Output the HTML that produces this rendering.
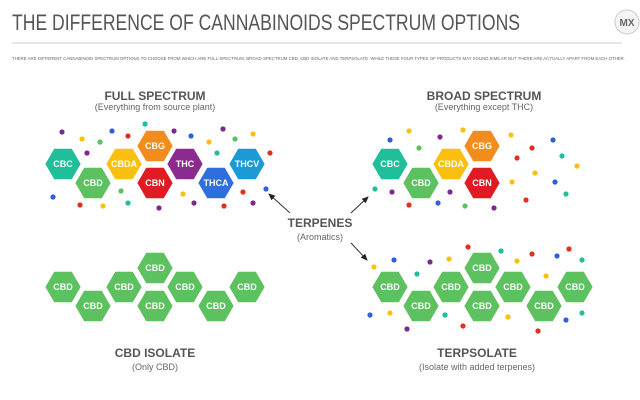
<!DOCTYPE html>
<html><head><meta charset="utf-8"><style>
html,body{margin:0;padding:0;background:#fff;width:640px;height:400px;overflow:hidden}
svg{display:block}
text{font-family:"Liberation Sans",sans-serif}
.h{font-size:12px;font-weight:bold;fill:#555;text-anchor:middle}
.s{font-size:9px;fill:#666;text-anchor:middle}
.hx{font-size:9px;font-weight:bold;fill:#fff;text-anchor:middle}
</style></head><body>
<svg width="640" height="400" viewBox="0 0 640 400" xmlns="http://www.w3.org/2000/svg">
<defs>
<polygon id="hex" points="-18.5,0 -9.2,-16 9.2,-16 18.5,0 9.2,16 -9.2,16" stroke="#fff" stroke-width="1.5"/>
<marker id="ar" markerWidth="8" markerHeight="8" refX="6" refY="3" orient="auto"><path d="M0,0 L7,3 L0,6 z" fill="#222"/></marker>
</defs>
<text x="12" y="30" font-size="22" fill="#555" textLength="508" lengthAdjust="spacingAndGlyphs">THE DIFFERENCE OF CANNABINOIDS SPECTRUM OPTIONS</text>
<circle cx="627" cy="22" r="12" fill="#f4f4f4" stroke="#ccc"/>
<text x="627" y="26" font-size="10" font-weight="bold" fill="#666" text-anchor="middle">MX</text>
<line x1="12" y1="43" x2="622" y2="43" stroke="#ccc" stroke-width="1"/>
<text x="12" y="60" font-size="4.6" fill="#666" textLength="613" lengthAdjust="spacingAndGlyphs">THERE ARE DIFFERENT CANNABINOID SPECTRUM OPTIONS TO CHOOSE FROM WHICH ARE FULL-SPECTRUM, BROAD-SPECTRUM CBD, CBD ISOLATE AND TERPSOLATE. WHILE THESE FOUR TYPES OF PRODUCTS MAY SOUND SIMILAR BUT THERE ARE ACTUALLY APART FROM EACH OTHER.</text>

<text class="h" x="155" y="100">FULL SPECTRUM</text>
<text class="s" x="155" y="110">(Everything from source plant)</text>
<text class="h" x="484" y="100">BROAD SPECTRUM</text>
<text class="s" x="484" y="110">(Everything except THC)</text>
<text class="h" x="320" y="227">TERPENES</text>
<text class="s" x="320" y="240">(Aromatics)</text>
<text class="h" x="155" y="357">CBD ISOLATE</text>
<text class="s" x="155" y="370">(Only CBD)</text>
<text class="h" x="477" y="357">TERPSOLATE</text>
<text class="s" x="477" y="370">(Isolate with added terpenes)</text>

<g stroke="#333" stroke-width="1" marker-end="url(#ar)">
<line x1="290" y1="213" x2="269" y2="194"/>
<line x1="351" y1="213" x2="368" y2="197"/>
<line x1="351" y1="243" x2="367" y2="260"/>
</g>

<g>
<use href="#hex" x="63" y="164" fill="#1fbf9a"/><text class="hx" x="63" y="167">CBC</text>
<use href="#hex" x="93" y="183" fill="#5cc15e"/><text class="hx" x="93" y="186">CBD</text>
<use href="#hex" x="124" y="164" fill="#fbbf10"/><text class="hx" x="124" y="167">CBDA</text>
<use href="#hex" x="155" y="146" fill="#f28c1c"/><text class="hx" x="155" y="149">CBG</text>
<use href="#hex" x="155" y="183" fill="#e01b24"/><text class="hx" x="155" y="186">CBN</text>
<use href="#hex" x="185" y="164" fill="#8b2a8f"/><text class="hx" x="185" y="167">THC</text>
<use href="#hex" x="216" y="183" fill="#2f6fdc"/><text class="hx" x="216" y="186">THCA</text>
<use href="#hex" x="247" y="164" fill="#1c9ad6"/><text class="hx" x="247" y="167">THCV</text>

<use href="#hex" x="390" y="164" fill="#1fbf9a"/><text class="hx" x="390" y="167">CBC</text>
<use href="#hex" x="421" y="183" fill="#5cc15e"/><text class="hx" x="421" y="186">CBD</text>
<use href="#hex" x="451" y="164" fill="#fbbf10"/><text class="hx" x="451" y="167">CBDA</text>
<use href="#hex" x="482" y="146" fill="#f28c1c"/><text class="hx" x="482" y="149">CBG</text>
<use href="#hex" x="482" y="183" fill="#e01b24"/><text class="hx" x="482" y="186">CBN</text>
</g>
<g fill="#5cc15e">
<use href="#hex" x="63" y="287"/><use href="#hex" x="93" y="306"/><use href="#hex" x="124" y="287"/><use href="#hex" x="155" y="268"/><use href="#hex" x="155" y="306"/><use href="#hex" x="185" y="287"/><use href="#hex" x="216" y="306"/><use href="#hex" x="247" y="287"/>
<use href="#hex" x="390" y="287"/><use href="#hex" x="421" y="306"/><use href="#hex" x="451" y="287"/><use href="#hex" x="482" y="268"/><use href="#hex" x="482" y="306"/><use href="#hex" x="513" y="287"/><use href="#hex" x="544" y="306"/><use href="#hex" x="575" y="287"/>
</g>
<g>
<text class="hx" x="63" y="290">CBD</text><text class="hx" x="93" y="309">CBD</text><text class="hx" x="124" y="290">CBD</text><text class="hx" x="155" y="271">CBD</text><text class="hx" x="155" y="309">CBD</text><text class="hx" x="185" y="290">CBD</text><text class="hx" x="216" y="309">CBD</text><text class="hx" x="247" y="290">CBD</text>
<text class="hx" x="390" y="290">CBD</text><text class="hx" x="421" y="309">CBD</text><text class="hx" x="451" y="290">CBD</text><text class="hx" x="482" y="271">CBD</text><text class="hx" x="482" y="309">CBD</text><text class="hx" x="513" y="290">CBD</text><text class="hx" x="544" y="309">CBD</text><text class="hx" x="575" y="290">CBD</text>
</g>

<g>
<circle cx="62" cy="132" r="2.6" fill="#7b2a8f"/><circle cx="82" cy="139" r="2.6" fill="#fbbf10"/><circle cx="100" cy="142" r="2.6" fill="#5cc15e"/><circle cx="112" cy="131" r="2.6" fill="#2f5fdc"/><circle cx="128" cy="136" r="2.6" fill="#e0301e"/><circle cx="145" cy="124" r="2.6" fill="#1fbf9a"/><circle cx="174" cy="131" r="2.6" fill="#7b2a8f"/><circle cx="191" cy="136" r="2.6" fill="#2f5fdc"/><circle cx="209" cy="142" r="2.6" fill="#fbbf10"/><circle cx="223" cy="129" r="2.6" fill="#7b2a8f"/><circle cx="235" cy="139" r="2.6" fill="#5cc15e"/><circle cx="253" cy="134" r="2.6" fill="#fbbf10"/><circle cx="217" cy="153" r="2.6" fill="#1fbf9a"/><circle cx="270" cy="153" r="2.6" fill="#e0301e"/><circle cx="87" cy="153" r="2.6" fill="#7b2a8f"/><circle cx="53" cy="197" r="2.6" fill="#2f5fdc"/><circle cx="80" cy="205" r="2.6" fill="#e0301e"/><circle cx="103" cy="206" r="2.6" fill="#fbbf10"/><circle cx="121" cy="191" r="2.6" fill="#5cc15e"/><circle cx="128" cy="203" r="2.6" fill="#1fbf9a"/><circle cx="159" cy="208" r="2.6" fill="#7b2a8f"/><circle cx="183" cy="194" r="2.6" fill="#fbbf10"/><circle cx="194" cy="203" r="2.6" fill="#7b2a8f"/><circle cx="224" cy="206" r="2.6" fill="#e0301e"/><circle cx="243" cy="192" r="2.6" fill="#e0301e"/><circle cx="253" cy="203" r="2.6" fill="#7b2a8f"/><circle cx="266" cy="189" r="2.6" fill="#2f5fdc"/>

<circle cx="409" cy="131" r="2.6" fill="#fbbf10"/><circle cx="390" cy="140" r="2.6" fill="#2f5fdc"/><circle cx="440" cy="137" r="2.6" fill="#7b2a8f"/><circle cx="419" cy="148" r="2.6" fill="#5cc15e"/><circle cx="463" cy="130" r="2.6" fill="#fbbf10"/><circle cx="511" cy="135" r="2.6" fill="#fbbf10"/><circle cx="532" cy="148" r="2.6" fill="#e0301e"/><circle cx="517" cy="158" r="2.6" fill="#e0301e"/><circle cx="553" cy="140" r="2.6" fill="#2f5fdc"/><circle cx="562" cy="156" r="2.6" fill="#1fbf9a"/><circle cx="577" cy="166" r="2.6" fill="#fbbf10"/><circle cx="535" cy="173" r="2.6" fill="#fbbf10"/><circle cx="512" cy="182" r="2.6" fill="#fbbf10"/><circle cx="555" cy="182" r="2.6" fill="#2f5fdc"/><circle cx="566" cy="194" r="2.6" fill="#1fbf9a"/><circle cx="526" cy="200" r="2.6" fill="#e0301e"/><circle cx="375" cy="189" r="2.6" fill="#1fbf9a"/><circle cx="392" cy="192" r="2.6" fill="#7b2a8f"/><circle cx="409" cy="205" r="2.6" fill="#e0301e"/><circle cx="438" cy="203" r="2.6" fill="#2f5fdc"/><circle cx="450" cy="192" r="2.6" fill="#7b2a8f"/><circle cx="465" cy="206" r="2.6" fill="#5cc15e"/><circle cx="494" cy="208" r="2.6" fill="#7b2a8f"/>

<circle cx="374" cy="267" r="2.6" fill="#fbbf10"/><circle cx="394" cy="260" r="2.6" fill="#2f5fdc"/><circle cx="430" cy="262" r="2.6" fill="#7b2a8f"/><circle cx="417" cy="274" r="2.6" fill="#1fbf9a"/><circle cx="449" cy="259" r="2.6" fill="#fbbf10"/><circle cx="468" cy="247" r="2.6" fill="#e0301e"/><circle cx="501" cy="251" r="2.6" fill="#1fbf9a"/><circle cx="517" cy="261" r="2.6" fill="#fbbf10"/><circle cx="532" cy="254" r="2.6" fill="#e0301e"/><circle cx="557" cy="256" r="2.6" fill="#2f5fdc"/><circle cx="569" cy="249" r="2.6" fill="#e0301e"/><circle cx="582" cy="260" r="2.6" fill="#1fbf9a"/><circle cx="546" cy="276" r="2.6" fill="#fbbf10"/><circle cx="370" cy="315" r="2.6" fill="#2f5fdc"/><circle cx="390" cy="313" r="2.6" fill="#fbbf10"/><circle cx="407" cy="329" r="2.6" fill="#7b2a8f"/><circle cx="445" cy="315" r="2.6" fill="#1fbf9a"/><circle cx="463" cy="326" r="2.6" fill="#e0301e"/><circle cx="508" cy="317" r="2.6" fill="#fbbf10"/><circle cx="538" cy="331" r="2.6" fill="#e0301e"/><circle cx="566" cy="320" r="2.6" fill="#2f5fdc"/><circle cx="582" cy="313" r="2.6" fill="#1fbf9a"/>
</g>
</svg>
</body></html>
